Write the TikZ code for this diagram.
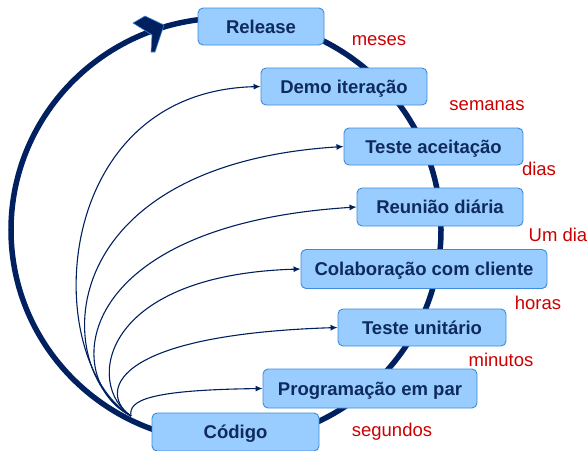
\documentclass[tikz,border=0pt]{standalone}
\usepackage{fontspec}
\setmainfont{Liberation Sans}
\usetikzlibrary{arrows.meta}

\definecolor{navy}{HTML}{002060}
\definecolor{boxfill}{HTML}{99CCFF}
\definecolor{boxedge}{HTML}{3D8BDB}
\definecolor{txt}{HTML}{0F2A5C}
\definecolor{timered}{HTML}{CC0000}

\tikzset{
  stage/.style={draw=boxedge, line width=0.9pt, fill=boxfill, rounded corners=5pt,
    minimum height=37pt, inner sep=0pt, text height=13.2pt, text depth=0pt,
    text=txt, font=\bfseries\fontsize{18.5}{22}\selectfont},
  period/.style={text=timered, anchor=base, inner sep=0pt,
    font=\fontsize{18.5}{22}\selectfont},
  feed/.style={draw=navy, line width=1.1pt, -{Latex[length=7pt,width=6pt]}},
  cycle line/.style={draw=navy, line width=5.5pt},
}

\begin{document}
\begin{tikzpicture}[x=1pt,y=-1pt]
\useasboundingbox (0,0) rectangle (588,450);

% the outer release cycle
\draw[cycle line] (226,230) ellipse [x radius=215pt, y radius=212pt];

% where the feedback loops leave the code
\coordinate (src) at (131,416);

% practice boxes
\node[stage, minimum width=126pt] (release) at (261,26.5) {Release};
\node[stage, minimum width=166pt] (demo)    at (344,86.5) {Demo iteração};
\node[stage, minimum width=179pt] (accept)  at (433.5,146.5) {Teste aceitação};
\node[stage, minimum width=166pt, minimum height=38pt] (daily) at (440,207) {Reunião diária};
\node[stage, minimum width=246pt, minimum height=39pt] (collab) at (424,269) {Colaboração com cliente};
\node[stage, minimum width=168pt] (unit)    at (422,327.5) {Teste unitário};
\node[stage, minimum width=214pt, minimum height=39pt] (pair) at (370,388.5) {Programação em par};

% feedback loops from the code
\draw[feed] (src) .. controls (40,360) and (50,92) .. (demo.west);
\draw[feed] (src) .. controls (50,370) and (50,165) .. (accept.west);
\draw[feed] (src) .. controls (60,380) and (70,225) .. (daily.west);
\draw[feed] (src) .. controls (85,385) and (100,275) .. (collab.west);
\draw[feed] (src) .. controls (100,395) and (105,335) .. (unit.west);
\draw[feed] (src) .. controls (128,400) and (150,390) .. (pair.west);

\node[stage, minimum width=167pt, minimum height=38pt] (code) at (235.5,432) {Código};

% direction marker on the cycle
\filldraw[fill=navy, draw=boxedge, line width=0.6pt]
  (133,23) -- (145,16) -- (164,25) -- (155,52) -- (151,52) -- (152,35) -- cycle;

% time scales
\node[period] (tmeses)    at (379,45)  {meses};
\node[period] (tsemanas)  at (487,110) {semanas};
\node[period] (tdias)     at (539,175) {dias};
\node[period] (tumdia)    at (558,241) {Um dia};
\node[period] (thoras)    at (538,309) {horas};
\node[period] (tminutos)  at (501,366) {minutos};
\node[period] (tsegundos) at (392,436) {segundos};
\end{tikzpicture}
\end{document}
